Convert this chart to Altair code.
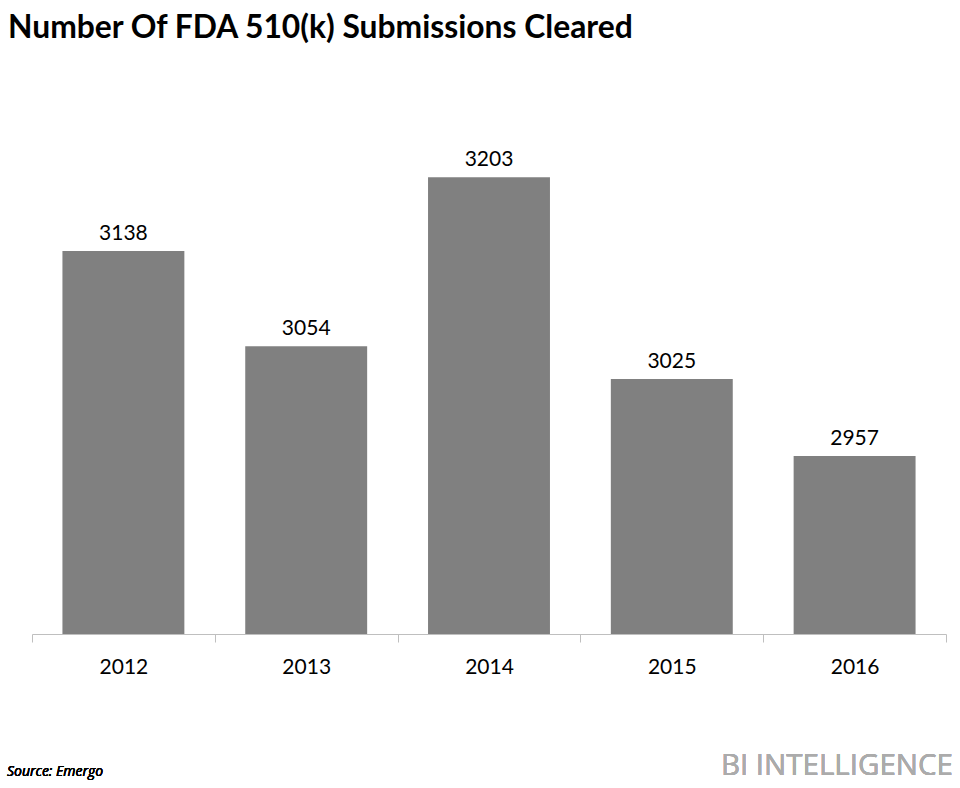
import altair as alt
import pandas as pd

years = ["2012", "2013", "2014", "2015", "2016"]
cleared = [3138, 3054, 3203, 3025, 2957]

df = pd.DataFrame({"year": years, "cleared": cleared})

FONT = "Lato"

base = alt.Chart(df).encode(
    x=alt.X(
        "year:N",
        sort=years,
        scale=alt.Scale(paddingInner=0, paddingOuter=0),
        axis=alt.Axis(
            title=None,
            labelAngle=0,
            labelFont=FONT,
            labelFontSize=21,
            labelColor="#000000",
            labelPadding=14,
            tickBand="extent",
            tickSize=8,
            tickColor="#bfbfbf",
            domainColor="#bfbfbf",
            domainWidth=1.2,
            grid=False,
        ),
    ),
    y=alt.Y(
        "cleared:Q",
        scale=alt.Scale(domain=[2800, 3250], zero=False, nice=False),
        axis=None,
    ),
)

bars = base.mark_bar(color="#808080", width=alt.RelativeBandSize(0.667), clip=True)

labels = base.mark_text(
    font=FONT, fontSize=21, color="#000000", baseline="alphabetic", dy=-11
).encode(text="cleared:Q")

source = alt.Chart(df).mark_text(
    text="Source: Emergo", font="Open Sans", fontSize=14, fontStyle="italic",
    fontWeight="normal", align="left", baseline="alphabetic", color="#000000"
).encode(x=alt.value(-25), y=alt.value(652))

logo = alt.Chart(df).mark_text(
    text="BI INTELLIGENCE", font="Open Sans", fontSize=29.5,
    align="right", baseline="alphabetic", color="#ababab"
).encode(x=alt.value(921), y=alt.value(651))

chart = (
    alt.layer(bars, labels, source, logo)
    .properties(
        width=914,
        height=510,
        autosize=alt.AutoSizeParams(type="none"),
        padding={"left": 32, "top": 124, "right": 14, "bottom": 154},
        title=alt.TitleParams(
            "Number Of FDA 510(k) Submissions Cleared",
            anchor="start",
            frame="group",
            font=FONT,
            fontSize=31.8,
            fontWeight="bold",
            color="#000000",
            baseline="alphabetic",
            offset=54,
            dx=-24,
        ),
    )
    .configure_view(stroke=None)
)

chart.save("out.html", embed_options={"renderer": "svg", "actions": False})
